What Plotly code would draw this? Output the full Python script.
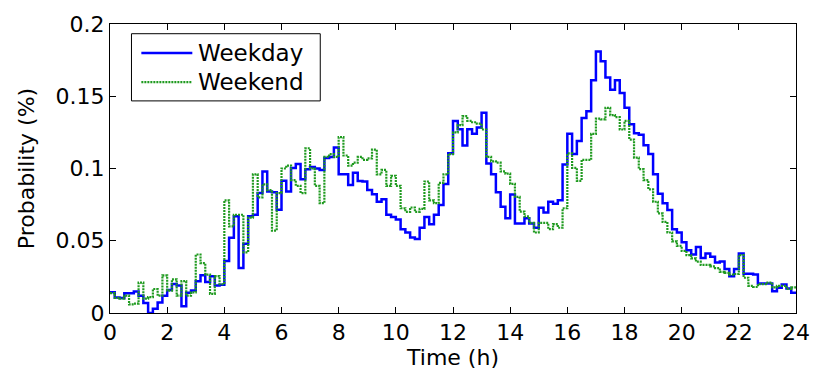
import plotly.graph_objects as go

# 10-minute resolution, 144 steps per day (values in %)
weekday = [
    0.0144, 0.0108, 0.0104, 0.0136, 0.0136, 0.0148, 0.0120, 0.0070, 0.0000, 0.0030, 0.0072, 0.0120,
    0.0160, 0.0200, 0.0190, 0.0047, 0.0140, 0.0155, 0.0220, 0.0262, 0.0215, 0.0255, 0.0190, 0.0195,
    0.0360, 0.0520, 0.0670, 0.0312, 0.0480, 0.0670, 0.0680, 0.0830, 0.0980, 0.0840, 0.0835, 0.0715,
    0.0915, 0.0840, 0.1004, 0.1031, 0.0926, 0.0995, 0.1010, 0.1000, 0.0990, 0.1072, 0.1080, 0.1146,
    0.0960, 0.0960, 0.0886, 0.0970, 0.0913, 0.0910, 0.0852, 0.0821, 0.0770, 0.0787, 0.0680, 0.0665,
    0.0647, 0.0580, 0.0557, 0.0523, 0.0512, 0.0590, 0.0665, 0.0614, 0.0680, 0.0747, 0.0893, 0.1105,
    0.1329, 0.1272, 0.1160, 0.1272, 0.1240, 0.1284, 0.1385, 0.1035, 0.0960, 0.0836, 0.0736, 0.0655,
    0.0820, 0.0620, 0.0620, 0.0655, 0.0620, 0.0590, 0.0728, 0.0695, 0.0770, 0.0756, 0.0781, 0.1027,
    0.1240, 0.1100, 0.1190, 0.1350, 0.1396, 0.1610, 0.1810, 0.1743, 0.1630, 0.1545, 0.1610, 0.1523,
    0.1420, 0.1306, 0.1244, 0.1233, 0.1161, 0.1100, 0.0960, 0.0826, 0.0760, 0.0713, 0.0580, 0.0557,
    0.0490, 0.0435, 0.0405, 0.0456, 0.0380, 0.0411, 0.0389, 0.0350, 0.0356, 0.0305, 0.0255, 0.0305,
    0.0412, 0.0272, 0.0272, 0.0266, 0.0205, 0.0205, 0.0205, 0.0150, 0.0175, 0.0197, 0.0170, 0.0140,
]

weekend = [
    0.0138, 0.0105, 0.0099, 0.0120, 0.0060, 0.0065, 0.0210, 0.0099, 0.0110, 0.0166, 0.0120, 0.0260,
    0.0155, 0.0233, 0.0120, 0.0220, 0.0120, 0.0143, 0.0405, 0.0345, 0.0266, 0.0133, 0.0255, 0.0199,
    0.0780, 0.0600, 0.0680, 0.0680, 0.0420, 0.0660, 0.0960, 0.0800, 0.0890, 0.0850, 0.0570, 0.0830,
    0.1000, 0.1020, 0.0920, 0.0880, 0.0830, 0.1140, 0.1000, 0.0880, 0.0760, 0.1080, 0.1100, 0.1080,
    0.1217, 0.1090, 0.1020, 0.1040, 0.1080, 0.1060, 0.1070, 0.1130, 0.0960, 0.0990, 0.0880, 0.0950,
    0.0880, 0.0725, 0.0700, 0.0730, 0.0700, 0.0720, 0.0910, 0.0780, 0.0760, 0.0900, 0.0960, 0.1100,
    0.1250, 0.1300, 0.1362, 0.1330, 0.1320, 0.1310, 0.1270, 0.1080, 0.1050, 0.1040, 0.0980, 0.0964,
    0.0893, 0.0803, 0.0702, 0.0668, 0.0624, 0.0557, 0.0624, 0.0624, 0.0580, 0.0615, 0.0590, 0.0725,
    0.1105, 0.1005, 0.0915, 0.1060, 0.1060, 0.1240, 0.1345, 0.1340, 0.1420, 0.1370, 0.1355, 0.1270,
    0.1330, 0.1200, 0.1075, 0.0995, 0.0920, 0.0855, 0.0770, 0.0690, 0.0630, 0.0557, 0.0495, 0.0465,
    0.0430, 0.0400, 0.0378, 0.0356, 0.0333, 0.0333, 0.0322, 0.0310, 0.0285, 0.0277, 0.0266, 0.0270,
    0.0400, 0.0244, 0.0188, 0.0180, 0.0200, 0.0200, 0.0210, 0.0177, 0.0188, 0.0188, 0.0166, 0.0177,
]

x_ticks = list(range(0, 25, 2))
y_ticks = [0, 0.05, 0.1, 0.15, 0.2]
y_ticklabels = ["0", "0.05", "0.1", "0.15", "0.2"]
series_names = ["Weekday", "Weekend"]

step_hours = 1 / 6
times = [i * step_hours for i in range(len(weekday) + 1)]

FONT = "DejaVu Sans, sans-serif"
BLUE = "#0000FF"
GREEN = "#1f9a1f"

fig = go.Figure()
fig.add_trace(go.Scatter(x=times, y=weekday + [weekday[-1]], mode="lines", line_shape="hv",
                         name=series_names[0], line=dict(color=BLUE, width=2.5)))
fig.add_trace(go.Scatter(x=times, y=weekend + [weekend[-1]], mode="lines", line_shape="hv",
                         name=series_names[1], line=dict(color=GREEN, width=2.2, dash="2px,1px")))

axis_common = dict(showline=True, linecolor="black", linewidth=1, mirror="ticks",
                   ticks="inside", ticklen=6, tickcolor="black", showgrid=False,
                   zeroline=False, tickfont=dict(family=FONT, size=22, color="black"))

fig.update_xaxes(range=[0, 24], tickvals=x_ticks, ticktext=[str(t) for t in x_ticks],
                 title=dict(text="Time (h)", font=dict(family=FONT, size=22, color="black"), standoff=0),
                 **axis_common)
fig.update_yaxes(range=[0, 0.2], tickvals=y_ticks, ticktext=y_ticklabels,
                 title=dict(text="Probability (%)", font=dict(family=FONT, size=22, color="black"), standoff=14),
                 **axis_common)

# legend box drawn in paper coordinates
leg_rows = [0.8993, 0.7987]
shapes = [dict(type="rect", xref="paper", yref="paper", x0=0.0313, x1=0.3065, y0=0.7339, y1=0.9664,
               line=dict(color="black", width=1), fillcolor="white", layer="above")]
annotations = []
styles = [dict(color=BLUE, width=2.5), dict(color=GREEN, width=2.2, dash="2px,1px")]
for name, yy, st in zip(series_names, leg_rows, styles):
    shapes.append(dict(type="line", xref="paper", yref="paper", x0=0.0457, x1=0.1200, y0=yy, y1=yy,
                       line=st, layer="above"))
    annotations.append(dict(xref="paper", yref="paper", x=0.1255, y=yy, text=name, showarrow=False,
                            xanchor="left", yanchor="middle",
                            font=dict(family=FONT, size=23, color="black")))

fig.update_layout(width=822, height=377, margin=dict(l=110, r=18, t=15, b=64),
                  paper_bgcolor="white", plot_bgcolor="white", showlegend=False,
                  shapes=shapes, annotations=annotations)

fig.write_html("out.html")
